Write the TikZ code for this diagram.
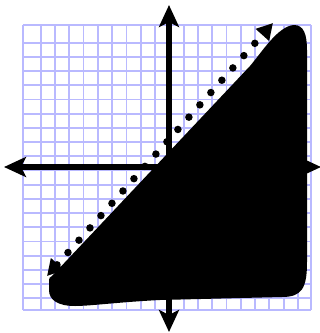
\documentclass[tikz,border=0pt]{standalone}
\usetikzlibrary{arrows.meta}
\definecolor{gridblue}{RGB}{185,185,255}
\tikzset{
  gridline/.style={draw=gridblue, line width=1.8pt},
  axis/.style={line width=6pt, -{Stealth[length=22pt,width=20pt,inset=5pt]}},
  dotline/.style={line width=7.5pt, line cap=round, dash pattern=on 0pt off 16.5pt,
    {Triangle[length=16pt,width=17pt]}-{Triangle[length=16pt,width=17pt]}},
  blob/.style={fill=black}
}
\begin{document}
\begin{tikzpicture}[x=1pt,y=-1pt]
\useasboundingbox (0,0) rectangle (320,333);
% grid
\draw[gridline] (23,25) -- (23,310);
\draw[gridline] (311,25) -- (311,310);
\foreach \k in {0,...,18} {
  \draw[gridline] ({40.7+14.29*\k},25) -- ({40.7+14.29*\k},310);
}
\draw[gridline] (23,25) -- (311,25);
\draw[gridline] (23,310) -- (311,310);
\foreach \k in {0,...,18} {
  \draw[gridline] (23,{42.7+14.2*\k}) -- (311,{42.7+14.2*\k});
}
% axes
\coordinate (O) at (169,167);
\coordinate (xl) at (4,167);
\coordinate (xr) at (321,167);
\coordinate (yt) at (169,5);
\coordinate (yb) at (169,332);
\draw[axis] (O) -- (xl);
\draw[axis] (O) -- (xr);
\draw[axis] (O) -- (yt);
\draw[axis] (O) -- (yb);
% shaded region
\fill[blob] (52,276) -- (250,66) .. controls (262,52) and (278,26) .. (294,25)
  .. controls (304,25) and (307,35) .. (307,50) -- (307,262)
  .. controls (307,288) and (302,297) .. (282,297) -- (160,300)
  .. controls (120,302) and (90,306) .. (75,306)
  .. controls (58,306) and (49,300) .. (49,290) -- (49,280)
  .. controls (49,278) and (50,277) .. (52,276) -- cycle;
% boundary line
\coordinate (A) at (47,276);
\coordinate (B) at (273,23);
\draw[dotline] (A) -- (B);
\end{tikzpicture}
\end{document}
